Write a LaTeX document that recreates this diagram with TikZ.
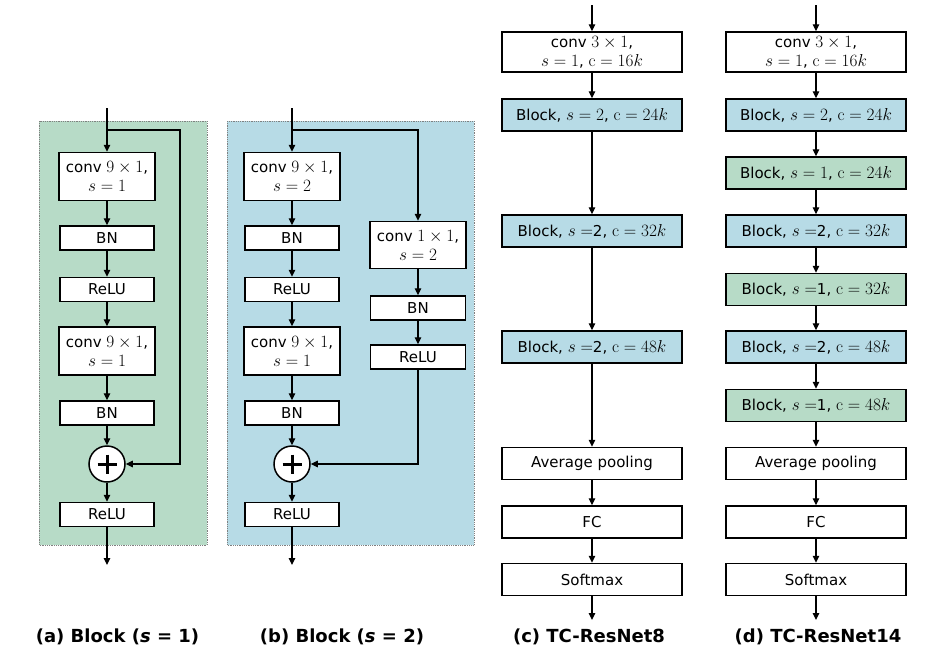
\documentclass[tikz,border=0pt]{standalone}
\usepackage[no-math]{fontspec}
\setmainfont{DejaVu Sans}
\usetikzlibrary{arrows.meta,calc}
\definecolor{pgreen}{HTML}{B7DBC7}
\definecolor{pblue}{HTML}{B7DBE6}
\newcommand{\bxfont}{\fontsize{15}{19}\selectfont}
\newcommand{\capfont}{\fontsize{18}{21}\selectfont\bfseries}
\newcommand{\mth}[1]{{\fontsize{17}{19}\selectfont$#1$}}
\begin{document}
\begin{tikzpicture}[x=1pt,y=-1pt,
  bx/.style={draw,line width=1.5pt,fill=white,inner sep=0pt,align=center,font=\bxfont,minimum height=24pt},
  cv/.style={bx,minimum width=96pt,minimum height=48pt},
  ly/.style={bx,minimum width=94pt,minimum height=24pt},
  nb/.style={bx,minimum width=180pt,minimum height=32pt},
  bl/.style={nb,fill=pblue},
  gr/.style={nb,fill=pgreen},
  arr/.style={line width=1.1pt,-{Triangle[length=7pt,width=6.5pt]}},
  panel/.style={draw=gray,densely dotted,line width=0.8pt},
  plus/.style={draw,circle,line width=1.5pt,fill=white,minimum size=36pt,inner sep=0pt},
  captext/.style={font=\capfont,inner sep=0pt}]
\useasboundingbox (0,0) rectangle (937,654);
% panels
\path[panel,fill=pgreen] (39,121) rectangle (207,545);
\path[panel,fill=pblue] (227,121) rectangle (474,545);
% ---------- (a) ----------
\coordinate (ain) at (107,108);
\coordinate (asplit) at (107,130);
\coordinate (askipA) at (180,130);
\coordinate (askipB) at (180,464);
\coordinate (aout) at (107,565);
\node[cv] (a1) at (107,176.5) {conv \mth{9\times 1},\\\mth{s=1}};
\node[ly] (a2) at (107,238) {BN};
\node[ly] (a3) at (107,289.5) {ReLU};
\node[cv] (a4) at (107,351) {conv \mth{9\times 1},\\\mth{s=1}};
\node[ly] (a5) at (107,413) {BN};
\node[plus] (ap) at (107,464) {};
\draw[line width=3pt] ($(ap)+(-9.5,0)$) -- ($(ap)+(9.5,0)$) ($(ap)+(0,-9.5)$) -- ($(ap)+(0,9.5)$);
\node[ly] (a6) at (107,514.5) {ReLU};
\draw[arr] (ain) -- (a1);
\draw[arr] (a1) -- (a2);
\draw[arr] (a2) -- (a3);
\draw[arr] (a3) -- (a4);
\draw[arr] (a4) -- (a5);
\draw[arr] (a5) -- (ap);
\draw[arr] (ap) -- (a6);
\draw[arr] (a6) -- (aout);
\draw[arr] (asplit) -- (askipA) -- (askipB) -- (ap);
% ---------- (b) ----------
\coordinate (bin) at (292,108);
\coordinate (bsplit) at (292,130);
\coordinate (bbrA) at (418,130);
\coordinate (bbrB) at (418,464);
\coordinate (bout) at (292,565);
\node[cv] (b1) at (292,176.5) {conv \mth{9\times 1},\\\mth{s=2}};
\node[ly] (b2) at (292,238) {BN};
\node[ly] (b3) at (292,289.5) {ReLU};
\node[cv] (b4) at (292,351) {conv \mth{9\times 1},\\\mth{s=1}};
\node[ly] (b5) at (292,413) {BN};
\node[plus] (bp) at (292,464) {};
\draw[line width=3pt] ($(bp)+(-9.5,0)$) -- ($(bp)+(9.5,0)$) ($(bp)+(0,-9.5)$) -- ($(bp)+(0,9.5)$);
\node[ly] (b6) at (292,514.5) {ReLU};
\node[cv,minimum height=47pt] (r1) at (418,245) {conv \mth{1\times 1},\\\mth{s=2}};
\node[ly,minimum width=95pt] (r2) at (418,308) {BN};
\node[ly,minimum width=95pt] (r3) at (418,357) {ReLU};
\draw[arr] (bin) -- (b1);
\draw[arr] (b1) -- (b2);
\draw[arr] (b2) -- (b3);
\draw[arr] (b3) -- (b4);
\draw[arr] (b4) -- (b5);
\draw[arr] (b5) -- (bp);
\draw[arr] (bp) -- (b6);
\draw[arr] (b6) -- (bout);
\draw[arr] (bsplit) -- (bbrA) -- (r1);
\draw[arr] (r1) -- (r2);
\draw[arr] (r2) -- (r3);
\draw[arr] (r3) -- (bbrB) -- (bp);
% ---------- (c) ----------
\coordinate (cin) at (592,5);
\coordinate (cout) at (592,620);
\node[nb,minimum height=40pt] (c1) at (592,52) {conv \mth{3\times 1},\\\mth{s=1}, \mth{\mathrm{c}=16k}};
\node[bl] (c2) at (592,115) {Block, \mth{s=2}, \mth{\mathrm{c}=24k}};
\node[bl] (c3) at (592,231) {Block, \mth{s=}2, \mth{\mathrm{c}=32k}};
\node[bl] (c4) at (592,347) {Block, \mth{s=}2, \mth{\mathrm{c}=48k}};
\node[nb] (c5) at (592,463.5) {Average pooling};
\node[nb] (c6) at (592,522) {FC};
\node[nb] (c7) at (592,579.5) {Softmax};
\draw[arr] (cin) -- (c1);
\draw[arr] (c1) -- (c2);
\draw[arr] (c2) -- (c3);
\draw[arr] (c3) -- (c4);
\draw[arr] (c4) -- (c5);
\draw[arr] (c5) -- (c6);
\draw[arr] (c6) -- (c7);
\draw[arr] (c7) -- (cout);
% ---------- (d) ----------
\coordinate (din) at (816,5);
\coordinate (dout) at (816,620);
\node[nb,minimum height=40pt] (d1) at (816,52) {conv \mth{3\times 1},\\\mth{s=1}, \mth{\mathrm{c}=16k}};
\node[bl] (d2) at (816,115) {Block, \mth{s=2}, \mth{\mathrm{c}=24k}};
\node[gr] (d3) at (816,173) {Block, \mth{s=1}, \mth{\mathrm{c}=24k}};
\node[bl] (d4) at (816,231) {Block, \mth{s=}2, \mth{\mathrm{c}=32k}};
\node[gr] (d5) at (816,289.5) {Block, \mth{s=}1, \mth{\mathrm{c}=32k}};
\node[bl] (d6) at (816,347) {Block, \mth{s=}2, \mth{\mathrm{c}=48k}};
\node[gr] (d7) at (816,405.5) {Block, \mth{s=}1, \mth{\mathrm{c}=48k}};
\node[nb] (d8) at (816,463.5) {Average pooling};
\node[nb] (d9) at (816,522) {FC};
\node[nb] (d10) at (816,579.5) {Softmax};
\draw[arr] (din) -- (d1);
\draw[arr] (d1) -- (d2);
\draw[arr] (d2) -- (d3);
\draw[arr] (d3) -- (d4);
\draw[arr] (d4) -- (d5);
\draw[arr] (d5) -- (d6);
\draw[arr] (d6) -- (d7);
\draw[arr] (d7) -- (d8);
\draw[arr] (d8) -- (d9);
\draw[arr] (d9) -- (d10);
\draw[arr] (d10) -- (dout);
% captions
\node[captext] (capa) at (117.5,637) {(a) Block (\textit{s} = 1)};
\node[captext] (capb) at (342,637) {(b) Block (\textit{s} = 2)};
\node[captext] (capc) at (589,637) {(c) TC-ResNet8};
\node[captext] (capd) at (818,637) {(d) TC-ResNet14};
\end{tikzpicture}
\end{document}
